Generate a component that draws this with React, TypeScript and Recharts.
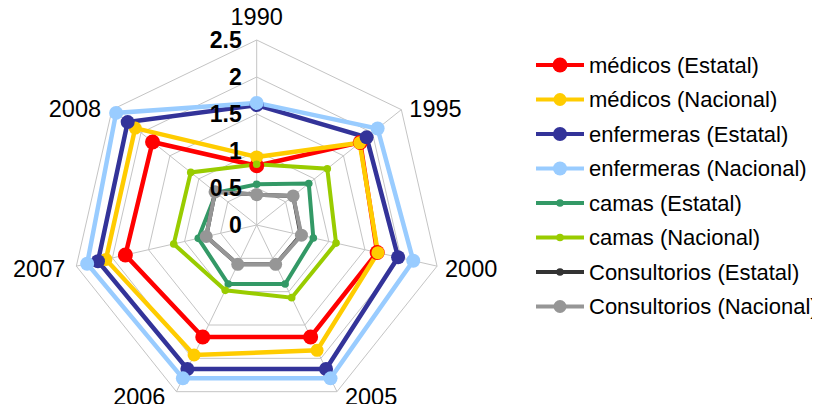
import React from 'react';
import { RadarChart, Radar, PolarGrid, PolarAngleAxis, PolarRadiusAxis, Legend } from 'recharts';

const categories = ['1990', '1995', '2000', '2005', '2006', '2007', '2008'];
const medicosEstatal = [0.8, 1.79, 1.67, 1.68, 1.68, 1.82, 1.8];
const medicosNacional = [0.92, 1.78, 1.68, 1.88, 1.95, 2.09, 2.1];
const enfermerasEstatal = [1.62, 1.9, 1.96, 2.16, 2.16, 2.2, 2.23];
const enfermerasNacional = [1.65, 2.09, 2.17, 2.3, 2.3, 2.35, 2.43];
const camasEstatal = [0.55, 0.9, 0.785, 0.885, 0.885, 0.81, 0.7];
const camasNacional = [0.82, 1.22, 1.1, 1.09, 0.98, 1.15, 1.14];
const consultoriosEstatal = [0.41, 0.63, 0.61, 0.59, 0.59, 0.7, 0.72];
const consultoriosNacional = [0.41, 0.63, 0.62, 0.59, 0.59, 0.7, 0.72];
const radiusTicks = [0, 0.5, 1, 1.5, 2, 2.5];

const series = [
  { key: 'me', name: 'médicos (Estatal)', values: medicosEstatal, color: '#FF0000', r: 7.5, w: 4.5 },
  { key: 'mn', name: 'médicos (Nacional)', values: medicosNacional, color: '#FFCC00', r: 6.5, w: 4.5 },
  { key: 'ee', name: 'enfermeras (Estatal)', values: enfermerasEstatal, color: '#333399', r: 7, w: 4.5 },
  { key: 'en', name: 'enfermeras (Nacional)', values: enfermerasNacional, color: '#99CCFF', r: 7, w: 4.5 },
  { key: 'ce', name: 'camas (Estatal)', values: camasEstatal, color: '#339966', r: 3.8, w: 4 },
  { key: 'cn', name: 'camas (Nacional)', values: camasNacional, color: '#99CC00', r: 3.8, w: 4 },
  { key: 'oe', name: 'Consultorios (Estatal)', values: consultoriosEstatal, color: '#333333', r: 3.8, w: 4 },
  { key: 'on', name: 'Consultorios (Nacional)', values: consultoriosNacional, color: '#969696', r: 6.5, w: 4 },
];

const data = categories.map((c, i) => {
  const row: any = { year: c };
  series.forEach((s) => { row[s.key] = s.values[i]; });
  return row;
});

const FONT = '"Liberation Sans", Arial, sans-serif';
const CX = 248.7;
const CY = 217;
const R = 185;

const AngleTick = (props: any) => {
  const angle = props.payload.coordinate;
  const rad = (angle * Math.PI) / 180;
  const cos = Math.cos(rad);
  const sin = Math.sin(rad);
  const vx = CX + R * cos;
  const vy = CY - R * sin;
  let anchor = 'middle';
  let x = vx;
  let y = vy;
  if (Math.abs(cos) < 1e-3) {
    y = sin > 0 ? vy - 23 : vy + 23;
  } else {
    anchor = cos > 0 ? 'start' : 'end';
    x = vx + (cos > 0 ? 8 : -11);
    y = vy - 4 * sin + 1.5;
  }
  return (
    <text x={x} y={y} textAnchor={anchor} dominantBaseline="central" fontFamily={FONT} fontSize={23.5} fill="#000">
      {props.payload.value}
    </text>
  );
};

const RadiusTick = (props: any) => (
  <text x={props.x - 15} y={props.y} textAnchor="end" dominantBaseline="central" fontFamily={FONT} fontSize={23} fontWeight="bold" fill="#000">
    {props.payload.value}
  </text>
);

const LegendContent = () => (
  <svg width={300} height={290} style={{ overflow: 'visible' }}>
    {series.map((s, i) => {
      const y = 25 + i * 34.5;
      return (
        <g key={s.key}>
          <line x1={16} x2={64} y1={y} y2={y} stroke={s.color} strokeWidth={4} />
          <circle cx={40} cy={y} r={s.r} fill={s.color} />
          <text x={69} y={y} dominantBaseline="central" fontFamily={FONT} fontSize={22} fill="#000">
            {s.name}
          </text>
        </g>
      );
    })}
  </svg>
);

const makeDot = (color: string, r: number) => (p: any) => (
  <circle key={`${color}-${p.index}`} cx={p.cx} cy={p.cy} r={r} fill={color} />
);

export default function App() {
  return (
    <div style={{ width: 812, height: 396 }}>
      <style>{`.recharts-surface{overflow:visible}`}</style>
      <RadarChart
        width={812}
        height={396}
        data={data}
        cx={CX}
        cy={CY}
        outerRadius={R}
        margin={{ top: 0, right: 0, bottom: 0, left: 0 }}
      >
        <PolarGrid gridType="polygon" stroke="#c4c4c4" strokeWidth={1} />
        <PolarAngleAxis dataKey="year" tick={<AngleTick />} tickLine={false} axisLine={false} />
        {series.map((s) => (
          <Radar
            key={s.key}
            name={s.name}
            dataKey={s.key}
            stroke={s.color}
            strokeWidth={s.w}
            fill="none"
            fillOpacity={0}
            dot={makeDot(s.color, s.r)}
            isAnimationActive={false}
          />
        ))}
        <PolarRadiusAxis
          type="number"
          angle={90}
          domain={[0, 2.5]}
          allowDataOverflow
          allowDecimals
          ticks={radiusTicks as any}
          tickCount={6}
          axisLine={false}
          tick={<RadiusTick />}
          {...({ zIndex: 2000 } as any)}
        />
        <Legend
          content={<LegendContent />}
          layout="vertical"
          wrapperStyle={{ position: 'absolute', left: 512, top: 32, width: 300, height: 290, overflow: 'visible' }}
        />
      </RadarChart>
    </div>
  );
}
